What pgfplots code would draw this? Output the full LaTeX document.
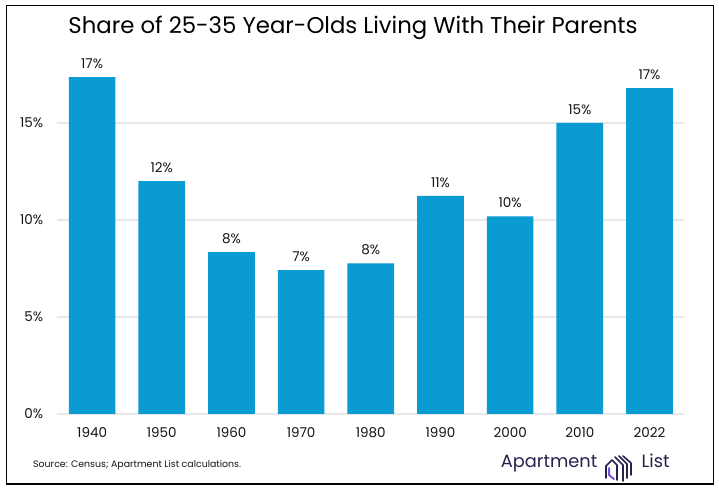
\documentclass[border=0pt]{standalone}
\usepackage{pgfplots}
\pgfplotsset{compat=1.18}
\usepackage{fontspec}
\setmainfont{Poppins}
\definecolor{barblue}{RGB}{10,155,211}
\definecolor{gridgray}{RGB}{232,232,232}
\definecolor{logonavy}{RGB}{43,33,80}
\definecolor{logopurple}{RGB}{122,79,224}
\definecolor{txt}{RGB}{20,20,20}
\begin{document}
\begin{tikzpicture}[x=1bp,y=1bp]
\useasboundingbox (0,0) rectangle (719,489);
\fill[white] (0,0) rectangle (719,489);
\begin{axis}[
  at={(57.3bp,75bp)}, anchor=south west,
  scale only axis, width=627bp, height=349.2bp,
  xmin=-0.5, xmax=8.5, ymin=0, ymax=18,
  axis line style={draw=none},
  major tick length=0pt,
  ytick={0,5,10,15},
  ymajorgrids, grid style={draw=gridgray, line width=1.2bp},
  xtick={0,...,8},
  xticklabels={1940,1950,1960,1970,1980,1990,2000,2010,2022},
  yticklabel={\pgfmathprintnumber{\tick}\%},
  /pgf/number format/assume math mode=true,
  yticklabel style={inner sep=0pt, anchor=east, xshift=-14bp, font=\fontsize{13.5bp}{16bp}\selectfont, text=txt},
  xticklabel style={inner sep=0pt, anchor=north, yshift=-13bp, font=\fontsize{13.5bp}{16bp}\selectfont, text=txt},
  clip=false,
]
\addplot[ybar, bar width=46.7bp, fill=barblue, draw=none,
  point meta=explicit symbolic,
  nodes near coords={\pgfplotspointmeta\%},
  nodes near coords style={anchor=south, inner sep=0pt, yshift=8bp, font=\fontsize{13.5bp}{16bp}\selectfont, text=txt}]
coordinates {
(0,17.36)[17]
(1,12.0)[12]
(2,8.35)[8]
(3,7.41)[7]
(4,7.77)[8]
(5,11.24)[11]
(6,10.19)[10]
(7,15.0)[15]
(8,16.8)[17]
};
\end{axis}
% frame
\draw[line width=1.3bp, black] (6.7,5) rectangle (713.3,483.3);
% title
\node[anchor=base, inner sep=0pt, font=\fontsize{22.8bp}{26bp}\selectfont] at (353,455.7) {Share of 25-35 Year-Olds Living With Their Parents};
% source
\node[anchor=base west, inner sep=0pt, font=\fontsize{9.4bp}{11bp}\selectfont, text=txt] at (33,21) {Source: Census; Apartment List calculations.};
% logo
\node[anchor=base west, inner sep=0pt, font=\fontsize{17.8bp}{21bp}\selectfont, text=logonavy] at (500.7,21.7) {Apartment};
\node[anchor=base west, inner sep=0pt, font=\fontsize{17.8bp}{21bp}\selectfont, text=logonavy] at (641.5,21.7) {List};
\draw[logonavy, line width=1.6bp, line join=round, line cap=round] (606,11) -- (606,23) -- (612,29) -- (617,24) -- (617,9);
\draw[logopurple, line width=2bp, line join=round, line cap=round] (609,21) -- (609,14) -- (614,10);
\draw[logonavy, line width=1.6bp, line join=round, line cap=round] (615,32) -- (623,24) -- (623,8);
\draw[logonavy, line width=1.6bp, line join=round, line cap=round] (619,33) -- (627,25) -- (627,11);
\draw[logonavy, line width=1.6bp, line join=round, line cap=round] (623,33) -- (631,26) -- (631,14);
\end{tikzpicture}
\end{document}
